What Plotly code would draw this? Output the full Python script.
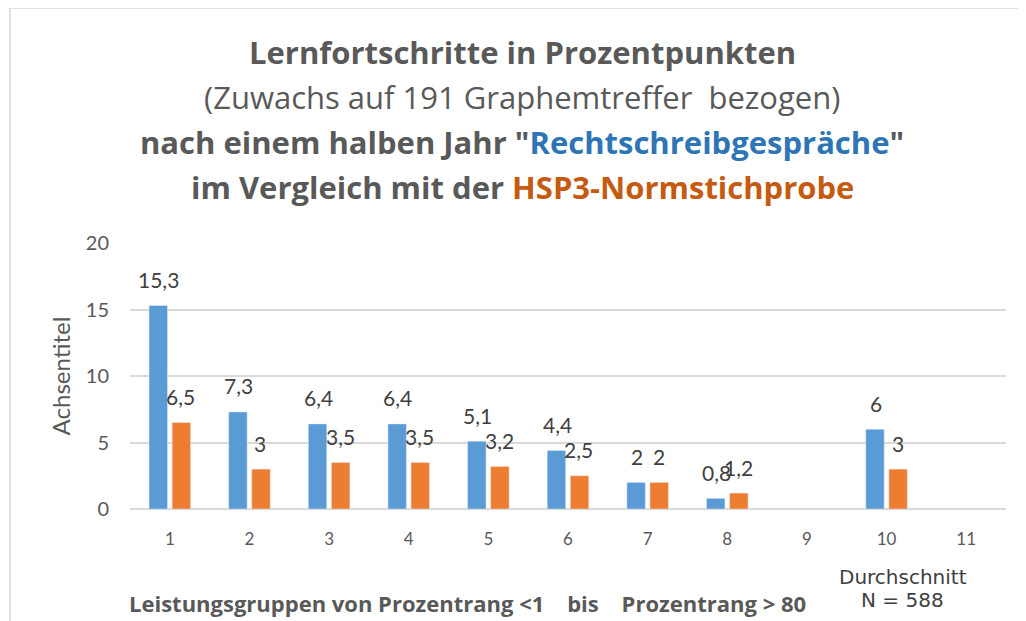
import plotly.graph_objects as go

categories = ["1", "2", "3", "4", "5", "6", "7", "8", "9", "10", "11"]
rechtschreib = [15.3, 7.3, 6.4, 6.4, 5.1, 4.4, 2, 0.8, None, 6, None]
norm = [6.5, 3, 3.5, 3.5, 3.2, 2.5, 2, 1.2, None, 3, None]
y_ticks = [0, 5, 10, 15, 20]

BLUE = "#5B9BD5"
ORANGE = "#ED7D31"
GRAY = "#595959"
FONT = "Lato"
TFONT = "Open Sans"

def fmt(v):
    return ("%g" % v).replace(".", ",")

fig = go.Figure()
fig.add_trace(go.Bar(x=categories, y=rechtschreib, marker_color=BLUE, name="Rechtschreibgespräche"))
fig.add_trace(go.Bar(x=categories, y=norm, marker_color=ORANGE, name="HSP3-Normstichprobe"))

annotations = []
# value labels
for series, off in ((rechtschreib, -0.25), (norm, 0.25)):
    for i, v in enumerate(series):
        if v is None:
            continue
        annotations.append(dict(x=i + off * 0.55, y=v, xref="x", yref="y", text=fmt(v),
                                showarrow=False, yanchor="middle", yshift=26,
                                font=dict(family=FONT, size=21, color="#404040")))

# screen -> paper helpers (plot area 130..1006 x, 243..509 y on screen)
def px(sx):
    return (sx - 130) / 876

def py(sy):
    return (509 - sy) / 266

title_lines = [
    "<b>Lernfortschritte in Prozentpunkten</b>",
    "(Zuwachs auf 191 Graphemtreffer\u00a0 bezogen)",
    "<b>nach einem halben Jahr \"<span style='color:#2E75B6'>Rechtschreibgespräche</span>\"</b>",
    "<b>im Vergleich mit der <span style='color:#C55A11'>HSP3-Normstichprobe</span></b>",
]
title_sy = [52, 97, 142, 187]
for t, sy in zip(title_lines, title_sy):
    annotations.append(dict(x=px(522), y=py(sy), xref="paper", yref="paper", text=t, showarrow=False,
                            xanchor="center", yanchor="middle",
                            font=dict(family=TFONT, size=31, color=GRAY)))

annotations.append(dict(x=px(467), y=py(603), xref="paper", yref="paper",
                        text="<b>Leistungsgruppen von Prozentrang &lt;1\u00a0\u00a0\u00a0 bis\u00a0\u00a0\u00a0 Prozentrang &gt; 80</b>",
                        showarrow=False, xanchor="center", yanchor="middle",
                        font=dict(family=TFONT, size=22, color=GRAY)))
annotations.append(dict(x=px(903), y=py(577), xref="paper", yref="paper",
                        text="Durchschnitt", showarrow=False, xanchor="center", yanchor="middle",
                        font=dict(family="DejaVu Sans", size=20, color="#404040")))
annotations.append(dict(x=px(902), y=py(600), xref="paper", yref="paper",
                        text="N = 588", showarrow=False, xanchor="center", yanchor="middle",
                        font=dict(family="DejaVu Sans", size=20, color="#404040")))

fig.update_layout(
    width=1018, height=613,
    margin=dict(l=122, r=20, t=235, b=112),
    paper_bgcolor="white", plot_bgcolor="white",
    barmode="group", bargap=0.42, bargroupgap=0.2,
    showlegend=False,
    annotations=annotations,
    shapes=[dict(type="rect", xref="paper", yref="paper",
                 x0=px(10), x1=1.2, y0=-0.6, y1=py(8),
                 line=dict(color="#D9D9D9", width=1.5), fillcolor="rgba(0,0,0,0)", layer="below")],
    font=dict(family=FONT, color=GRAY),
)
fig.update_yaxes(range=[0, 20], tickvals=y_ticks, showgrid=True, gridcolor="#D9D9D9", gridwidth=1.5,
                 zeroline=True, zerolinecolor="#D9D9D9", zerolinewidth=1.5,
                 tickfont=dict(family=FONT, size=20, color=GRAY), ticklabelstandoff=20,
                 title=dict(text="Achsentitel", font=dict(family=FONT, size=24, color=GRAY), standoff=8))
fig.update_xaxes(type="category", tickfont=dict(family=FONT, size=17, color=GRAY), ticklabelstandoff=18,
                 showline=False, showgrid=False)

fig.write_html("out.html")
